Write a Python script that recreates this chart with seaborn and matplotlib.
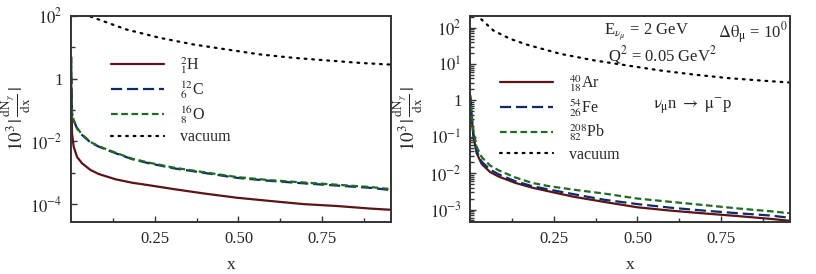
import numpy as np
import pandas as pd
import matplotlib
matplotlib.use("Agg")
import matplotlib.pyplot as plt
import matplotlib.ticker as mticker
import seaborn as sns

# ---------------- data ----------------
# left panel
xl = [0.0005, 0.003, 0.008, 0.018, 0.033, 0.058, 0.083, 0.133, 0.183, 0.233,
      0.308, 0.395, 0.495, 0.595, 0.695, 0.795, 0.895, 0.955]
H2 = [1.0, 1.8e-2, 6.8e-3, 3.2e-3, 2.0e-3, 1.23e-3, 9.1e-4, 6.2e-4, 4.8e-4, 4.0e-4,
      3.0e-4, 2.2e-4, 1.6e-4, 1.26e-4, 1.0e-4, 8.7e-5, 7.2e-5, 6.6e-5]
C12 = [5.0, 0.079, 0.047, 0.026, 0.016, 9.3e-3, 6.8e-3, 4.2e-3, 2.7e-3, 2.0e-3,
       1.38e-3, 1.0e-3, 6.9e-4, 5.5e-4, 4.6e-4, 3.9e-4, 3.3e-4, 2.8e-4]
O16 = [5.0, 0.080, 0.048, 0.027, 0.0165, 9.6e-3, 7.0e-3, 4.35e-3, 2.8e-3, 2.1e-3,
       1.45e-3, 1.05e-3, 7.3e-4, 5.8e-4, 4.9e-4, 4.15e-4, 3.5e-4, 3.0e-4]
vac_xl = [0.03, 0.055, 0.165, 0.265, 0.365, 0.465, 0.565, 0.665, 0.765, 0.865, 0.955]
vac_l = [224, 98, 37, 20, 12.3, 8.5, 5.9, 4.6, 3.8, 3.16, 2.8]

# right panel
xr = [0.001, 0.005, 0.01, 0.02, 0.035, 0.06, 0.085, 0.135, 0.185, 0.235,
      0.31, 0.40, 0.50, 0.60, 0.70, 0.80, 0.90, 0.955]
Ar40 = [1.12, 0.32, 0.107, 0.035, 0.0178, 0.0107, 8.1e-3, 5.4e-3, 4.0e-3, 3.16e-3,
        2.24e-3, 1.62e-3, 1.15e-3, 9.3e-4, 7.8e-4, 6.6e-4, 5.5e-4, 4.9e-4]
Fe54 = [1.26, 0.355, 0.12, 0.040, 0.0204, 0.0126, 9.3e-3, 6.0e-3, 4.4e-3, 3.55e-3,
        2.63e-3, 1.86e-3, 1.41e-3, 1.12e-3, 9.3e-4, 7.9e-4, 6.8e-4, 5.9e-4]
Pb208 = [1.4, 0.43, 0.15, 0.052, 0.0275, 0.0162, 0.012, 7.6e-3, 5.4e-3, 4.4e-3,
         3.5e-3, 2.75e-3, 2.0e-3, 1.62e-3, 1.32e-3, 1.07e-3, 8.9e-4, 7.9e-4]
vac_xr = [0.015, 0.03, 0.07, 0.12, 0.17, 0.27, 0.37, 0.47, 0.57, 0.67, 0.77, 0.87, 0.955]
vac_r = [400, 182, 83, 49, 34, 19, 12.6, 9.1, 6.6, 5.1, 4.1, 3.5, 3.1]

labels_l = [r"${}^{2}_{1}$H", r"${}^{12}_{6}$C", r"${}^{16}_{8}$O", "vacuum"]
labels_r = [r"${}^{40}_{18}$Ar", r"${}^{54}_{26}$Fe", r"${}^{208}_{82}$Pb", "vacuum"]

# ---------------- style ----------------
sns.set_style("ticks")
plt.rcParams["font.family"] = ["Liberation Serif", "DejaVu Serif"]
plt.rcParams["mathtext.fontset"] = "stix"

C_RED = "#5c1414"
C_BLUE = "#0c2a6e"
C_GREEN = "#1f6b1f"
SPINE = "#333333"

fig = plt.figure(figsize=(8.16, 2.74), dpi=100)
axL = fig.add_axes([0.087, 0.188, 0.392, 0.754])
axR = fig.add_axes([0.576, 0.188, 0.392, 0.754])


def draw(ax, x, ys, labels, vx, vy):
    styles = [
        dict(color=C_RED, linestyle="-"),
        dict(color=C_BLUE, dashes=(5, 2.2)),
        dict(color=C_GREEN, dashes=(3, 1.6)),
    ]
    for y, lab, st in zip(ys, labels[:3], styles):
        df = pd.DataFrame({"x": x, "y": y})
        sns.lineplot(data=df, x="x", y="y", ax=ax, label=lab, lw=1.6, **st)
    dv = pd.DataFrame({"x": vx, "y": vy})
    sns.lineplot(data=dv, x="x", y="y", ax=ax, label=labels[3], color="black",
                 lw=1.6, dashes=(0.8, 2.6), dash_capstyle="round")
    ax.set_yscale("log")
    ax.set_xlim(0, 0.955)
    ax.set_xticks([0.25, 0.50, 0.75])
    ax.set_xticklabels(["0.25", "0.50", "0.75"])
    ax.set_xticks([0.125, 0.375, 0.625, 0.875], minor=True)
    ax.set_xlabel("x", fontsize=12.5, labelpad=7)
    for s in ax.spines.values():
        s.set_color(SPINE)
        s.set_linewidth(1.4)
    ax.tick_params(which="both", direction="in", color=SPINE, width=1.0,
                   top=False, right=False, labelsize=12, pad=6)
    ax.tick_params(which="major", length=4.5)
    ax.tick_params(which="minor", length=3)


def fmt(v, pos):
    e = int(round(np.log10(v)))
    if e == 0:
        return "1"
    return r"$10^{%d}$" % e


draw(axL, xl, [H2, C12, O16], labels_l, vac_xl, vac_l)
draw(axR, xr, [Ar40, Fe54, Pb208], labels_r, vac_xr, vac_r)

axL.set_ylim(2.6e-5, 100)
axL.yaxis.set_major_locator(mticker.FixedLocator([1e-4, 1e-2, 1, 1e2]))
axL.yaxis.set_minor_locator(mticker.FixedLocator([1e-3, 1e-1, 1e1]))
axL.yaxis.set_major_formatter(mticker.FuncFormatter(fmt))
axL.yaxis.set_minor_formatter(mticker.NullFormatter())

axR.set_ylim(4.4e-4, 210)
axR.yaxis.set_major_locator(mticker.LogLocator(base=10, numticks=20))
axR.yaxis.set_minor_locator(mticker.LogLocator(base=10, subs=np.arange(2, 10), numticks=20))
axR.yaxis.set_major_formatter(mticker.FuncFormatter(fmt))
axR.yaxis.set_minor_formatter(mticker.NullFormatter())

ylab = r"$10^{3}\,|\,\frac{\mathrm{dN}_{\gamma}}{\mathrm{dx}}\,|$"
axL.set_ylabel(ylab, fontsize=13.5)
axR.set_ylabel(ylab, fontsize=13.5)
axL.yaxis.set_label_coords(-0.118, 0.5)
axR.yaxis.set_label_coords(-0.142, 0.5)

for ax, (bx, by) in [(axL, (0.125, 0.812)), (axR, (0.095, 0.722))]:
    ax.legend(loc="upper left", bbox_to_anchor=(bx, by), frameon=False,
              fontsize=11.5, handlelength=3.3, handletextpad=1.0,
              labelspacing=0.22, borderaxespad=0, borderpad=0)

axR.text(0.42, 0.918, r"E$_{\nu_{\mu}}$ = 2 GeV", transform=axR.transAxes,
         fontsize=12, va="center", ha="left")
axR.text(0.775, 0.918, r"$\Delta\mathrm{\theta}_{\mathrm{\mu}}$ = 10$^{0}$", transform=axR.transAxes,
         fontsize=12, va="center", ha="left")
axR.text(0.43, 0.811, r"Q$^{2}$ = 0.05 GeV$^{2}$", transform=axR.transAxes,
         fontsize=12, va="center", ha="left")
axR.text(0.572, 0.559, r"$\mathrm{\nu}_{\mathrm{\mu}}$n $\rightarrow$ $\mathrm{\mu}^{-}$p",
         transform=axR.transAxes, fontsize=12, va="center", ha="left")

fig.savefig("out.png", dpi=100)
